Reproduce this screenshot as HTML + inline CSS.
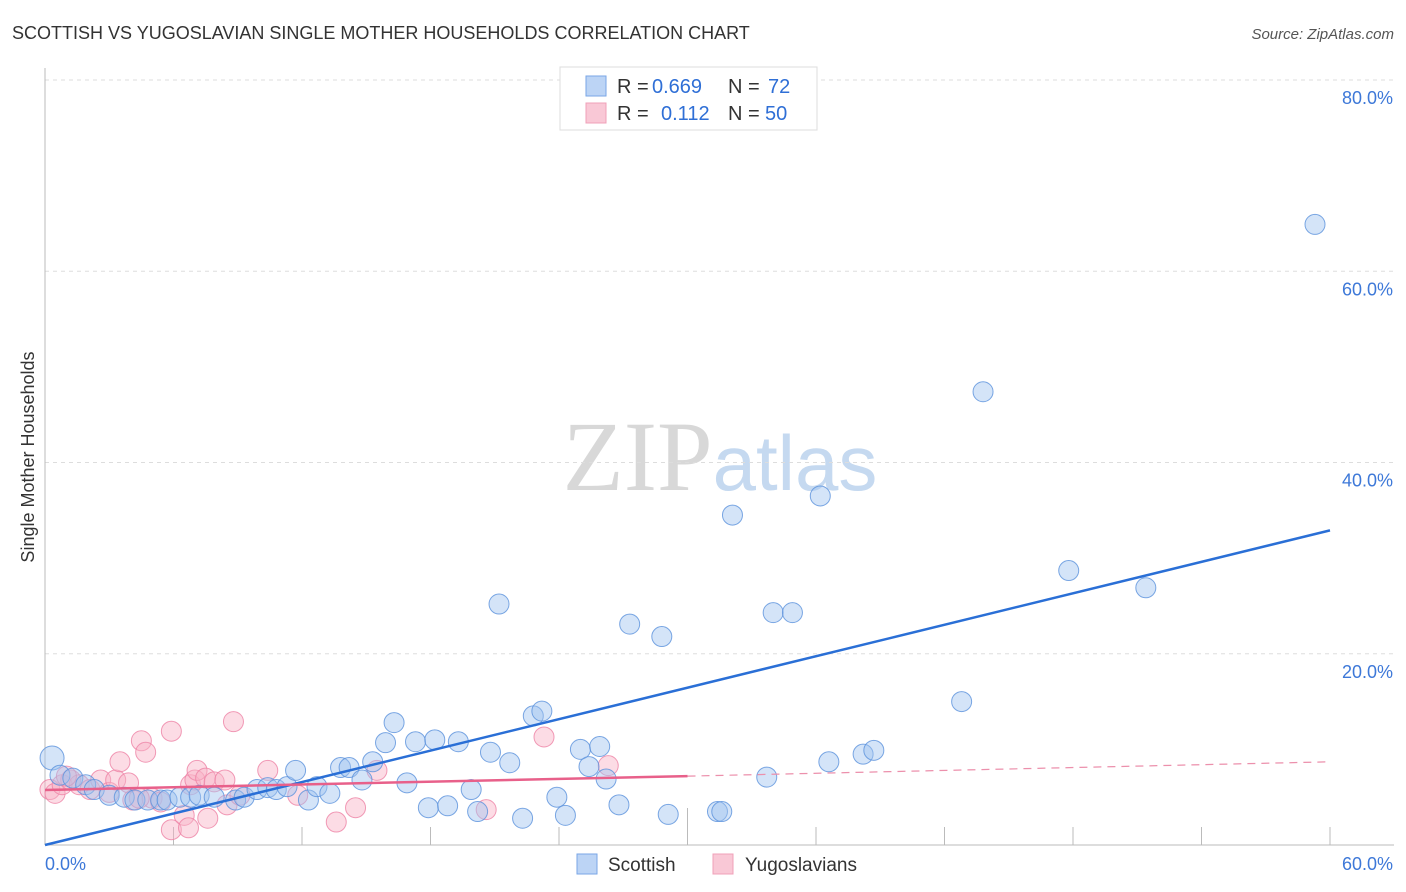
<!DOCTYPE html>
<html><head><meta charset="utf-8"><style>
body{margin:0;background:#fff;font-family:"Liberation Sans",sans-serif}
svg{display:block}
</style></head><body>
<svg width="1406" height="892" xmlns="http://www.w3.org/2000/svg">
<text x="12" y="39" font-size="18" fill="#333">SCOTTISH VS YUGOSLAVIAN SINGLE MOTHER HOUSEHOLDS CORRELATION CHART</text>
<text x="1394" y="39" font-size="15" font-style="italic" fill="#555" text-anchor="end">Source: ZipAtlas.com</text>
<text x="720" y="490" font-size="100" text-anchor="middle" font-family="Liberation Serif,serif"><tspan fill="#d8d8d8">ZIP</tspan><tspan fill="#c5d9f0" font-family="Liberation Sans,sans-serif" font-size="78">atlas</tspan></text>
<g id="grid"></g>
<g id="axes"></g>
<g id="marks"></g>
<text transform="translate(34,457) rotate(-90)" font-size="18" fill="#333" text-anchor="middle">Single Mother Households</text>
<g>
<rect x="560" y="67" width="257" height="63" fill="#fff" stroke="#ddd"/>
<rect x="586" y="76" width="20" height="20" fill="#bcd4f5" stroke="#7aa6e6"/>
<text x="617" y="93" font-size="20" fill="#333">R =</text>
<text x="652" y="93" font-size="20" fill="#2f6fd6">0.669</text>
<text x="728" y="93" font-size="20" fill="#333">N =</text>
<text x="768" y="93" font-size="20" fill="#2f6fd6">72</text>
<rect x="586" y="103" width="20" height="20" fill="#f9c8d6" stroke="#f0a0b8"/>
<text x="617" y="120" font-size="20" fill="#333">R =</text>
<text x="661" y="120" font-size="20" fill="#2f6fd6">0.112</text>
<text x="728" y="120" font-size="20" fill="#333">N =</text>
<text x="765" y="120" font-size="20" fill="#2f6fd6">50</text>
</g>
<g>
<rect x="577" y="854" width="20" height="20" fill="#bcd4f5" stroke="#7aa6e6"/>
<text x="608" y="871" font-size="19" fill="#333">Scottish</text>
<rect x="713" y="854" width="20" height="20" fill="#f9c8d6" stroke="#f0a0b8"/>
<text x="745" y="871" font-size="19" fill="#333">Yugoslavians</text>
</g>
</svg>
<script>
const yTicks=[20,40,60,80];
const yTickLabels=["20.0%","40.0%","60.0%","80.0%"];
const xTicks=[0,6,12,18,24,30,36,42,48,54,60];
const scottishX=[0.33,0.7,1.3,1.9,2.3,3.0,3.7,4.2,4.8,5.4,5.7,6.3,6.8,7.2,7.9,8.9,9.3,9.9,10.4,10.8,11.3,11.7,12.3,12.7,13.3,13.8,14.2,14.8,15.3,15.9,16.3,16.9,17.3,18.2,19.3,17.9,18.8,19.9,20.2,20.8,21.2,21.7,22.3,22.8,23.2,23.9,24.3,25.0,25.4,25.9,26.2,26.8,27.3,28.8,29.1,31.4,31.6,32.1,33.7,34.0,34.9,36.2,36.6,38.2,38.7,42.8,43.8,47.8,51.4,59.3];
const scottishY=[9.1,7.3,7.0,6.3,5.8,5.2,5.0,4.7,4.7,4.7,4.7,5.0,5.0,5.2,5.0,4.7,5.0,5.8,6.0,5.8,6.1,7.8,4.7,6.1,5.4,8.1,8.1,6.8,8.7,10.7,12.8,6.5,10.8,11.0,10.8,3.9,4.1,5.8,3.5,9.7,25.2,8.6,2.8,13.5,14.0,5.0,3.1,10.0,8.2,10.3,6.9,4.2,23.1,21.8,3.2,3.5,3.5,34.5,7.1,24.3,24.3,36.5,8.7,9.5,9.9,15.0,47.4,28.7,26.9,64.9];
const yugoX=[0.23,0.47,0.8,1.2,1.6,2.1,2.6,3.0,3.3,3.5,3.9,4.1,4.5,4.7,5.0,5.4,5.9,5.9,6.5,6.7,6.8,7.0,7.1,7.5,7.6,7.9,8.4,8.5,8.8,9.1,10.4,11.8,13.6,14.5,15.5,20.6,23.3,26.3,1.0,4.4];
const yugoY=[5.8,5.4,6.3,6.8,6.3,5.8,6.8,5.5,6.8,8.7,6.5,4.7,10.9,9.7,4.9,4.5,11.9,1.6,3.1,1.8,6.3,6.8,7.8,7.0,2.8,6.6,6.8,4.2,12.9,5.2,7.8,5.2,2.4,3.9,7.8,3.7,11.3,8.3,7.2,4.9];
const scottishTrend=[0,60,0,32.9];
const yugoTrend=[0,30,60,5.75,7.2,8.7];
const NS="http://www.w3.org/2000/svg";
const X=v=>45+v*(1285/60), Y=v=>845-v*(765/80);
function mk(p,t,a){const e=document.createElementNS(NS,t);for(const k in a)e.setAttribute(k,a[k]);p.appendChild(e);return e;}
const grid=document.getElementById('grid'),axes=document.getElementById('axes'),marks=document.getElementById('marks');
yTicks.forEach((t,i)=>{
 const l=mk(grid,'line',{x1:45,x2:1394,y1:Y(t),y2:Y(t),stroke:'#ddd','stroke-dasharray':'4,4'});
 
 
 const tx=mk(axes,'text',{x:1393,y:Y(t)+24,'font-size':18,fill:'#3d78d8','text-anchor':'end'});
 tx.textContent=yTickLabels[i];
 
 
});
const ya=mk(axes,'line',{x1:45,x2:45,y1:68,y2:845,stroke:'#bbb'});


const xa=mk(axes,'line',{x1:45,x2:1394,y1:845,y2:845,stroke:'#bbb'});


xTicks.forEach((t,i)=>{
 if(i===0)return;
 const tk=mk(axes,'line',{x1:X(t),x2:X(t),y1:(t===30?808:827),y2:845,stroke:'#bbb'});
 
 
});
[[0,'0.0%',45,'start'],[60,'60.0%',1393,'end']].forEach(d=>{
 const tx=mk(axes,'text',{x:d[2],y:870,'font-size':18,fill:'#3d78d8','text-anchor':d[3]});
 tx.textContent=d[1];
 
 
});
yugoX.forEach((v,i)=>{
 const c=mk(marks,'circle',{cx:X(v),cy:Y(yugoY[i]),r:10,fill:'rgba(248,178,198,0.45)',stroke:'rgba(238,130,165,0.8)','stroke-width':1});
 
 
});
scottishX.forEach((v,i)=>{
 const c=mk(marks,'circle',{cx:X(v),cy:Y(scottishY[i]),r:i===0?12:10,fill:'rgba(160,196,240,0.45)',stroke:'rgba(90,145,220,0.8)','stroke-width':1});
 
 
});
const bl=mk(marks,'line',{x1:X(scottishTrend[0]),x2:X(scottishTrend[1]),y1:Y(scottishTrend[2]),y2:Y(scottishTrend[3]),stroke:'#2a6fd6','stroke-width':2.5});


const pl=mk(marks,'line',{x1:X(yugoTrend[0]),x2:X(yugoTrend[1]),y1:Y(yugoTrend[3]),y2:Y(yugoTrend[4]),stroke:'#e8608a','stroke-width':2.5});


const pd=mk(marks,'line',{x1:X(yugoTrend[1]),x2:X(yugoTrend[2]),y1:Y(yugoTrend[4]),y2:Y(yugoTrend[5]),stroke:'#ec90ac','stroke-width':1.2,'stroke-dasharray':'8,6'});


</script>
</body></html>
